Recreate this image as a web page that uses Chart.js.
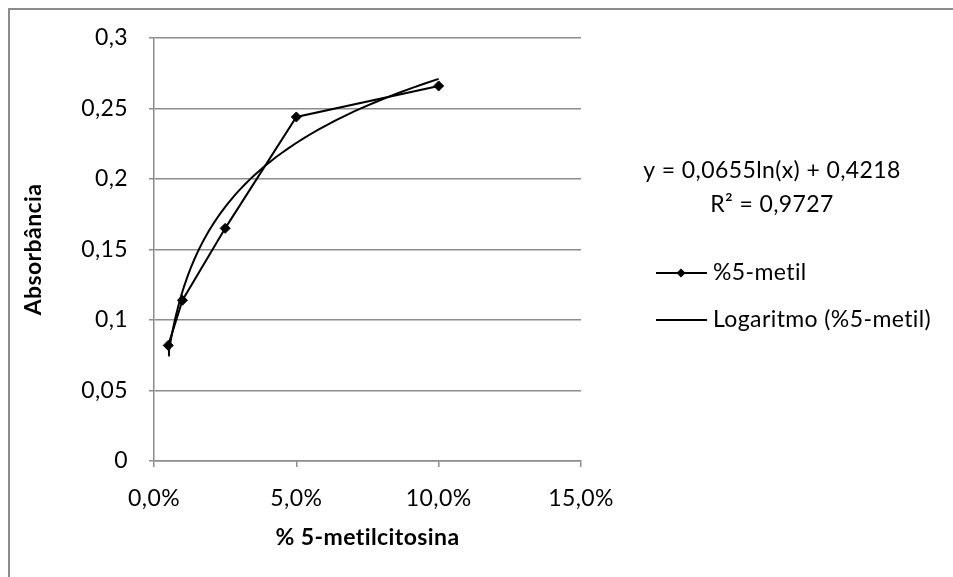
<!DOCTYPE html>
<html>
<head>
<meta charset="utf-8">
<script src="https://cdn.jsdelivr.net/npm/chart.js@4"></script>
<style>
  html, body { margin: 0; padding: 0; background: #fff; }
</style>
</head>
<body>
<canvas id="scatterChart" width="953" height="577"></canvas>
<script>
// data
var concentrations = [0.005, 0.01, 0.025, 0.05, 0.10];
var absorbance = [0.082, 0.114, 0.165, 0.244, 0.266];
var xTickLabels = ['0,0%', '5,0%', '10,0%', '15,0%'];
var yTickLabels = ['0', '0,05', '0,1', '0,15', '0,2', '0,25', '0,3'];
var seriesName = '%5-metil';
var trendName = 'Logaritmo (%5-metil)';
// Excel log trendline shown on the chart: y = a ln(x) + b
var trendSlope = 0.0655;
var trendIntercept = 0.4218;
var trendText = ['y = 0,0655ln(x) + 0,4218', 'R\u00b2 = 0,9727'];

var gridGray = '#8c8c8c';
var fontFamily = 'Lato, "Open Sans", sans-serif';

// points for the trendline curve, spread on a log scale between first and last x
var trendPoints = [];
var x0 = concentrations[0], x1 = concentrations[concentrations.length - 1];
for (var i = 0; i <= 60; i++) {
  var x = x0 * Math.pow(x1 / x0, i / 60);
  trendPoints.push({ x: x, y: trendSlope * Math.log(x) + trendIntercept });
}

var dataPoints = concentrations.map(function (c, i) {
  return { x: c, y: absorbance[i] };
});

// frame, equation and legend like the Excel original
var extras = {
  id: 'extras',
  beforeDraw: function (chart) {
    var c = chart.ctx;
    c.save();
    c.fillStyle = '#fff';
    c.fillRect(0, 0, chart.width, chart.height);
    c.strokeStyle = gridGray;
    c.lineWidth = 2;
    c.beginPath();
    c.moveTo(9, chart.height);
    c.lineTo(9, 9);
    c.lineTo(chart.width, 9);
    c.stroke();
    c.restore();
    // a bit of spacing: wider like Calibri and no "ti" ligature
    c.letterSpacing = '0.4px';
  },
  afterDraw: function (chart) {
    var c = chart.ctx;
    c.save();
    c.fillStyle = '#000';
    c.font = '23px ' + fontFamily;
    c.textBaseline = 'middle';
    c.textAlign = 'center';
    c.fillText(trendText[0], 772, 171);
    c.fillText(trendText[1], 772, 205);

    c.textAlign = 'left';
    c.strokeStyle = '#000';
    c.lineWidth = 2;
    // series entry
    c.beginPath();
    c.moveTo(656, 273);
    c.lineTo(707, 273);
    c.stroke();
    c.beginPath();
    c.moveTo(681, 268.5);
    c.lineTo(685.5, 273);
    c.lineTo(681, 277.5);
    c.lineTo(676.5, 273);
    c.closePath();
    c.fill();
    c.fillText(seriesName, 713, 273);
    // trendline entry
    c.beginPath();
    c.moveTo(656, 320);
    c.lineTo(707, 320);
    c.stroke();
    c.fillText(trendName, 713, 320);
    c.restore();
  }
};

var ctx = document.getElementById('scatterChart').getContext('2d');
var myChart = new Chart(ctx, {
  type: 'scatter',
  data: {
    datasets: [{
      label: seriesName,
      data: dataPoints,
      showLine: true,
      borderColor: '#000',
      backgroundColor: '#000',
      borderWidth: 2,
      pointStyle: 'rectRot',
      pointRadius: 5,
      pointBorderWidth: 1
    }, {
      label: trendName,
      data: trendPoints,
      showLine: true,
      borderColor: '#000',
      borderWidth: 2,
      pointRadius: 0,
      tension: 0
    }]
  },
  options: {
    responsive: false,
    animation: false,
    layout: { padding: { left: 0, top: 38, right: 372, bottom: 0 } },
    plugins: {
      legend: { display: false },
      tooltip: { enabled: false }
    },
    scales: {
      x: {
        type: 'linear',
        min: 0,
        max: 0.15,
        afterFit: function (s) { s.height = 116; },
        ticks: {
          stepSize: 0.05,
          padding: 18,
          color: '#000',
          font: { family: fontFamily, size: 23 },
          callback: function (v, i) { return xTickLabels[i]; }
        },
        grid: { drawOnChartArea: false, drawTicks: true, tickLength: 6, color: gridGray, lineWidth: 1.5 },
        border: { color: gridGray, width: 1.5 },
        title: {
          display: true,
          text: '% 5-metilcitosina',
          color: '#000',
          font: { family: fontFamily, size: 23, weight: 'bold' },
          padding: { top: 0, bottom: 26 }
        }
      },
      y: {
        type: 'linear',
        min: 0,
        max: 0.3,
        afterFit: function (s) { s.width = 154; },
        ticks: {
          stepSize: 0.05,
          padding: 21,
          color: '#000',
          font: { family: fontFamily, size: 23 },
          callback: function (v, i) { return yTickLabels[i]; }
        },
        grid: { drawTicks: true, tickLength: 5, color: gridGray, lineWidth: 1.5 },
        border: { color: gridGray, width: 1.5 },
        title: {
          display: true,
          text: 'Absorbância',
          color: '#000',
          font: { family: fontFamily, size: 23, weight: 'bold' },
          padding: { top: 20, bottom: 0 }
        }
      }
    }
  },
  plugins: [extras]
});
</script>
</body>
</html>
